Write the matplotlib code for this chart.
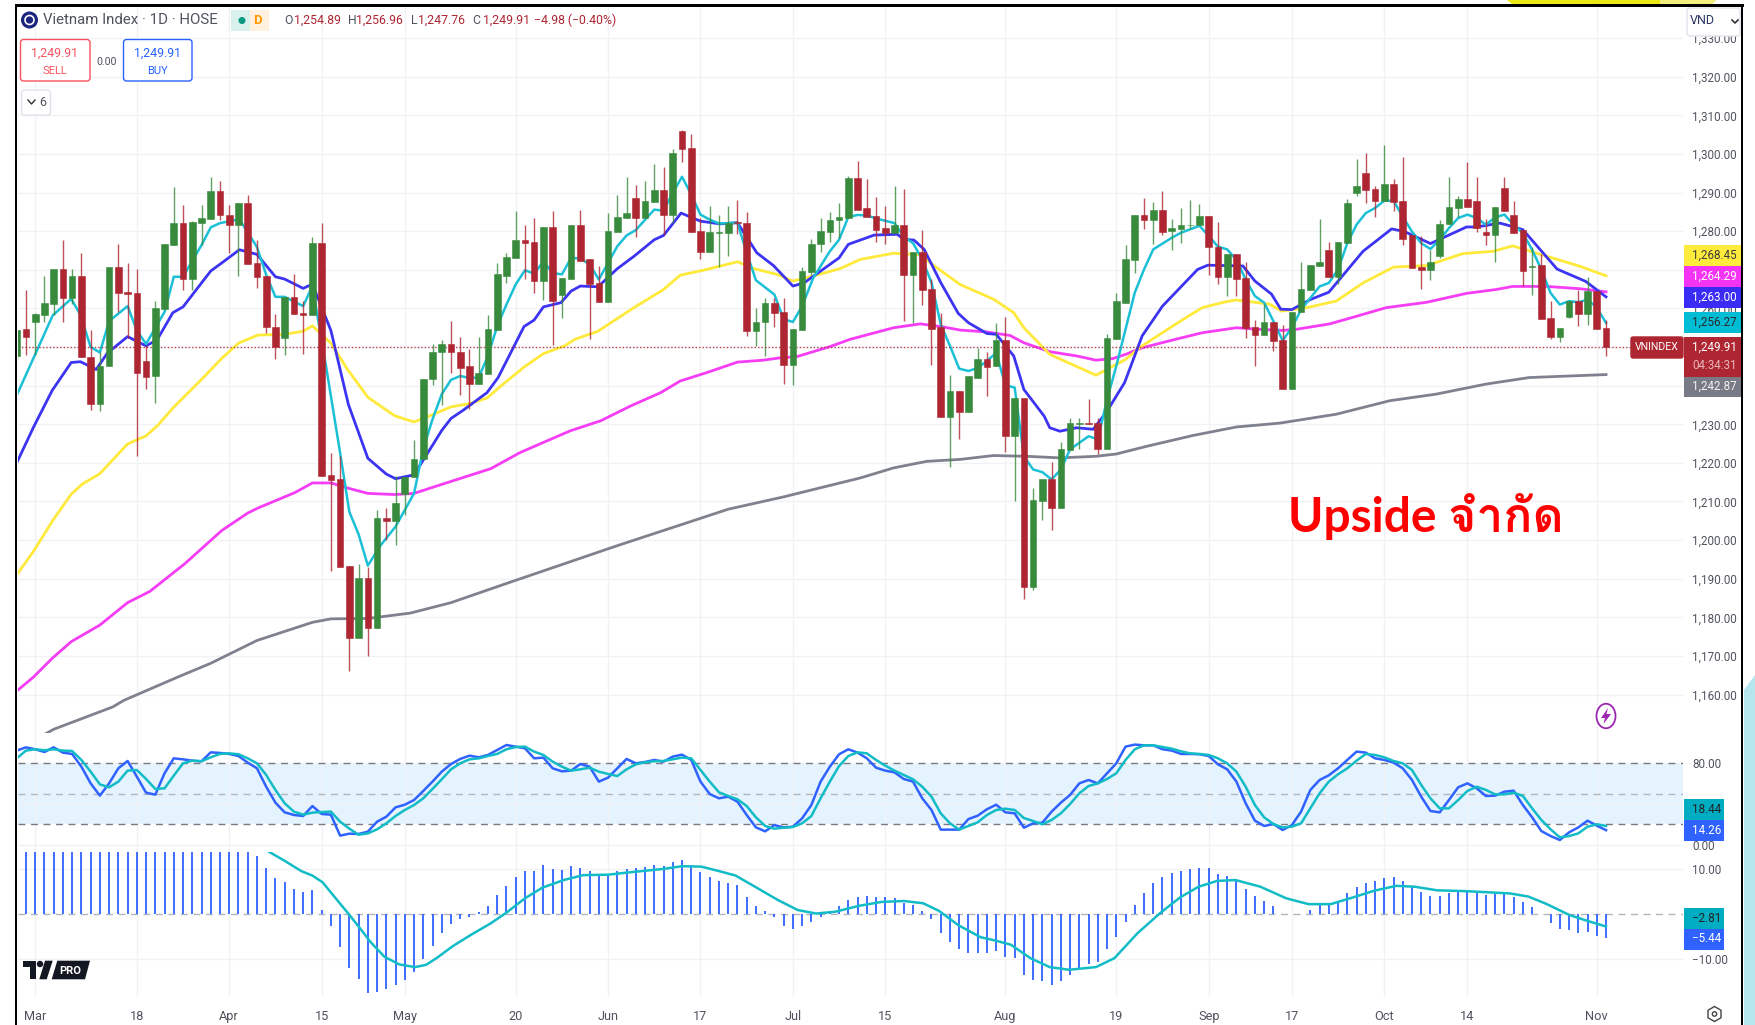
import matplotlib
matplotlib.use('Agg')
import matplotlib.pyplot as plt
from matplotlib import font_manager as fm
from matplotlib.ft2font import FT2Font
from matplotlib.patches import Rectangle, FancyBboxPatch, Circle, Ellipse, Polygon, RegularPolygon

W, H = 1755, 1025

# Candles (Vietnam Index, daily)
opens = [1247.6,1254.6,1256.6,1258.2,1261.1,1270.2,1262.8,1268.5,1247.4,1235.3,1245.0,1270.8,1264.3,1264.0,1246.5,1242.4,1259.8,1276.3,1282.1,1267.6,
         1282.1,1283.1,1290.5,1284.3,1281.5,1287.2,1271.7,1268.5,1255.2,1252.4,1263.0,1258.8,1258.3,1276.9,1216.8,1215.8,1193.2,1174.7,1190.3,1177.3,
         1205.8,1205.0,1211.9,1216.3,1220.9,1241.6,1248.6,1250.8,1248.8,1245.0,1240.3,1243.1,1254.4,1268.5,1273.1,1277.8,1277.2,1267.0,1281.1,1263.4,
         1267.7,1281.6,1272.7,1266.5,1261.6,1279.8,1283.4,1288.7,1283.4,1287.6,1290.7,1284.3,1305.9,1301.6,1280.0,1274.7,1279.5,1279.5,1282.3,1282.0,
         1254.1,1256.4,1261.4,1259.1,1245.3,1254.4,1269.5,1276.6,1279.8,1282.8,1283.3,1293.9,1285.9,1283.9,1280.9,1279.5,1281.5,1268.6,1274.7,1265.0,
         1255.1,1231.8,1238.5,1233.1,1242.0,1246.9,1245.0,1251.7,1226.9,1236.9,1187.9,1210.2,1215.9,1208.3,1223.4,1230.0,1230.4,1230.4,1223.5,1252.2,
         1261.5,1272.5,1284.3,1282.8,1285.6,1280.0,1280.6,1281.5,1281.5,1284.0,1275.9,1268.2,1274.0,1267.9,1255.3,1253.1,1256.6,1251.7,1239.2,1259.0,
         1264.7,1271.1,1275.2,1268.2,1276.9,1289.8,1295.1,1291.0,1287.8,1292.3,1287.7,1279.1,1270.7,1269.9,1273.7,1281.8,1286.1,1288.4,1287.7,1279.9,
         1279.1,1291.2,1284.2,1280.4,1270.8,1271.3,1257.5,1252.7,1257.8,1262.0,1258.5,1264.6,1254.89]
highs = [1254.5,1264.7,1258.9,1268.5,1270.2,1277.6,1270.2,1274.4,1254.3,1248.6,1270.8,1276.6,1271.8,1270.2,1250.5,1261.8,1276.6,1291.5,1286.9,1282.6,
         1286.9,1294.0,1293.1,1286.9,1287.2,1289.3,1277.8,1268.5,1258.5,1263.0,1268.9,1262.0,1278.6,1282.1,1222.6,1221.7,1193.2,1193.9,1193.1,1207.8,
         1208.4,1216.7,1216.4,1225.8,1241.7,1250.8,1251.7,1256.8,1252.7,1249.4,1252.7,1258.2,1271.8,1274.4,1285.3,1281.5,1283.3,1281.1,1285.3,1267.8,
         1281.6,1285.6,1272.7,1271.1,1284.6,1289.5,1294.0,1292.0,1292.9,1297.4,1296.6,1301.4,1306.3,1305.3,1283.3,1286.5,1284.3,1286.5,1288.2,1284.9,
         1260.2,1262.8,1262.8,1262.8,1254.7,1270.8,1278.0,1283.4,1284.9,1287.2,1294.4,1298.1,1293.4,1288.8,1286.6,1291.7,1290.9,1274.7,1280.3,1267.5,
         1258.9,1242.7,1238.5,1242.4,1249.8,1248.8,1256.1,1257.9,1236.9,1236.9,1213.5,1215.9,1220.2,1225.4,1231.7,1231.7,1236.6,1231.7,1253.3,1264.1,
         1276.4,1284.3,1288.5,1287.6,1290.4,1283.1,1286.0,1288.2,1287.0,1284.0,1282.4,1274.0,1274.0,1272.1,1256.9,1261.1,1256.6,1255.6,1259.2,1272.1,
         1271.3,1283.2,1277.1,1277.1,1288.3,1298.7,1300.3,1291.8,1302.3,1293.5,1299.3,1279.1,1278.7,1275.2,1282.8,1294.1,1289.2,1297.8,1294.1,1283.1,
         1286.4,1294.1,1287.9,1280.4,1276.0,1274.2,1261.8,1255.0,1262.0,1264.9,1268.2,1264.6,1256.96]
lows = [1247.0,1247.9,1247.9,1256.6,1258.2,1256.5,1261.1,1247.3,1233.7,1233.4,1245.0,1259.1,1252.4,1221.9,1239.2,1235.6,1259.8,1276.3,1264.7,1264.7,
        1276.4,1283.1,1282.9,1274.4,1268.5,1271.5,1265.3,1253.6,1246.8,1247.9,1258.6,1248.3,1258.3,1216.6,1192.1,1193.0,1166.2,1174.7,1169.9,1177.3,
        1200.1,1198.8,1206.5,1216.3,1220.9,1240.1,1235.1,1243.3,1237.6,1233.9,1240.3,1243.1,1254.4,1266.6,1273.1,1267.5,1264.1,1262.3,1250.6,1257.6,
        1267.7,1272.4,1252.2,1261.6,1261.6,1279.8,1283.4,1278.5,1283.4,1287.6,1279.1,1282.2,1297.9,1279.8,1272.7,1274.7,1270.8,1273.7,1279.4,1252.8,
        1250.4,1247.8,1255.3,1240.5,1240.1,1254.4,1268.6,1274.6,1277.2,1278.3,1283.3,1285.6,1283.7,1277.2,1276.6,1279.5,1256.7,1256.3,1260.9,1245.3,
        1231.8,1218.9,1226.3,1233.1,1242.0,1237.3,1245.0,1222.8,1210.1,1184.7,1187.0,1205.3,1202.7,1208.3,1223.4,1223.5,1230.1,1222.4,1223.5,1252.2,
        1261.5,1269.3,1280.5,1276.8,1279.0,1275.1,1277.0,1280.7,1281.5,1268.6,1266.3,1263.2,1263.1,1252.4,1245.0,1253.1,1249.0,1239.2,1239.2,1259.0,
        1264.7,1271.1,1268.2,1266.2,1276.9,1289.0,1287.3,1283.8,1287.8,1285.3,1276.5,1270.5,1265.1,1267.3,1273.1,1281.8,1283.6,1286.2,1279.9,1276.5,
        1272.0,1285.3,1279.5,1265.7,1263.4,1257.3,1252.2,1251.3,1257.5,1255.4,1255.7,1254.7,1247.76]
closes = [1254.5,1252.7,1258.6,1261.4,1270.2,1262.8,1268.5,1247.3,1235.3,1245.2,1270.8,1264.1,1263.7,1243.4,1242.3,1260.1,1276.6,1282.1,1267.6,1282.4,
          1283.3,1290.5,1284.1,1281.5,1287.2,1271.5,1268.2,1255.1,1250.1,1263.0,1258.6,1258.3,1276.9,1216.6,1215.6,1193.0,1174.7,1190.3,1177.3,1205.8,
          1205.0,1209.7,1216.4,1221.0,1241.7,1248.8,1250.7,1248.6,1244.7,1240.3,1243.4,1254.7,1268.8,1273.4,1277.8,1276.9,1267.0,1281.1,1261.8,1267.8,
          1281.6,1272.4,1266.3,1261.6,1280.1,1283.6,1284.6,1283.4,1287.8,1290.7,1284.3,1300.3,1301.4,1279.8,1274.7,1279.7,1279.7,1282.2,1282.0,1254.1,
          1256.6,1261.4,1258.9,1245.3,1254.7,1269.7,1276.8,1280.0,1282.9,1283.6,1293.9,1285.6,1283.8,1280.4,1279.5,1281.5,1268.6,1274.7,1264.7,1254.7,
          1231.8,1238.5,1233.1,1242.4,1246.9,1244.9,1251.7,1226.9,1236.9,1187.9,1210.4,1215.9,1208.3,1223.6,1230.4,1230.4,1230.1,1223.5,1252.4,1261.8,
          1272.7,1284.3,1282.8,1285.6,1279.9,1280.8,1281.7,1281.7,1284.0,1275.8,1268.2,1274.0,1267.7,1254.9,1253.1,1256.6,1251.5,1239.2,1259.2,1265.0,
          1271.3,1271.9,1268.2,1277.1,1287.4,1291.6,1290.7,1287.9,1292.3,1287.5,1277.9,1270.5,1269.9,1271.9,1281.9,1286.4,1288.4,1286.2,1280.8,1279.1,
          1286.4,1285.3,1279.5,1269.8,1271.0,1257.3,1252.7,1255.0,1262.0,1258.5,1264.6,1254.7,1249.91]

# Moving averages: bar position, value
gray_x = [2.5,4,10.4,11.6,17.6,21,26,32,34,38,42.6,47,52.8,64.8,77,83,91.3,94.9,98.5,102.1,105.7,109.3,112.9,116.8,119,122.3,127.3,132,136.7,142.8,148.6,153.6,159,163.7,172]
gray_y = [1149,1151,1156.8,1158.5,1164.7,1168.1,1174,1178.7,1179.6,1179.7,1181.1,1183.8,1188.6,1198.4,1208,1211.2,1216.1,1218.7,1220.4,1220.9,1221.9,1221.7,1221.3,1221.7,1222.3,1224.3,1227.1,1229.3,1230.3,1232.6,1236.1,1237.8,1240.4,1242.1,1242.87]
magenta_x = [0,1.85,3.85,5.9,9,12,14.4,18.2,22.2,25,26.1,30.1,32,34,35.8,38,40.9,43,44.8,47,51.3,54.5,57,59.9,63.2,66.4,69.7,71.8,74.7,78,80.8,82.6,84.4,88,90.2,94.9,97.8,100.3,102.1,105,107.5,109,111.8,114.7,116.8,118.6,120,121.8,125.4,128.3,132,134.4,136.9,138.5,142.1,144.6,148.2,152.6,156.9,160.1,161.9,165.6,169.2,172]
magenta_y = [1160.9,1164.6,1169.4,1173.7,1178,1183.8,1186.7,1193.9,1202.5,1207,1208.3,1212.3,1214.8,1214.8,1213.5,1212.1,1211.8,1212.1,1213.5,1215.2,1218.5,1222.7,1225.3,1228.3,1230.9,1234.7,1238.2,1241.2,1243.4,1246.1,1246.6,1247.2,1247.5,1250.1,1252,1255,1256,1255.2,1254.4,1253.9,1253,1251.1,1248.8,1247.7,1246.6,1247,1248.1,1249.8,1252,1253.7,1255,1254.6,1254.3,1254.6,1256,1257.7,1260.2,1261.6,1263.9,1264.9,1265.7,1265.7,1265.1,1264.29]
yellow_x = [0,1.85,3.85,5.9,7.1,9,12,14,15.3,16.9,20,22.2,24,26.1,29,31,32,34,35.8,38,40.9,43,44.8,47,49.1,50.9,52.4,54.9,57,59.3,60.4,62.9,66.8,70,71.8,74.7,78,79.8,82.3,84,86.2,89.1,91.3,94.9,97.8,99.2,102.1,105.7,107.9,109,111.8,116.8,120,121.8,125.4,128.3,130.8,132,135.6,136.9,139.6,142.8,145.7,149,152.6,156.5,159.8,161.9,165.6,169.2,172]
yellow_y = [1191,1197.2,1204.9,1211.9,1214.5,1217.2,1224.9,1227,1229.8,1234.2,1241.6,1247.1,1251,1253.1,1253.3,1254.1,1255.5,1251,1244.2,1237,1232.2,1230.6,1232.3,1234.5,1235.4,1236.8,1239.9,1244.8,1248.3,1250.3,1252,1254.1,1260.2,1264.9,1268.6,1270.1,1272.1,1270.3,1268.8,1267.1,1268.4,1270.3,1272.7,1274.3,1273.9,1271.2,1266.2,1262.4,1258.9,1255,1248.1,1242.7,1246.8,1250.3,1255.9,1260.2,1261.7,1262.2,1261.1,1259.3,1260.2,1261.9,1266.6,1270.7,1271.1,1274.2,1274.8,1276.2,1273.5,1270.9,1268.45]
blue_x = [0,1.85,3.85,5.9,6.9,8.6,9.8,12,14,15.2,16.9,18,21,22.2,24.1,26,28,29,31,32,34,35.9,38,40,41,43,46,47,48.3,50.9,52.1,54.9,56,57,58.9,60,61,62.9,65,66.8,69,70,71.9,74,76.1,78,80.1,81.9,84,85.2,89,90,92.8,95.3,96,97.1,98.2,100,101.9,103,105,106,107.9,109,111.2,111.8,112.9,114.7,116.5,118,119.9,121.8,124,127.8,128.9,132.7,134,135.8,136.8,138,140,142,145.7,148.8,150.2,153,156.9,158,160.5,161.9,163,166.7,169.8,172]
blue_y = [1220,1229.4,1238.8,1246,1246.2,1244.2,1248.4,1252.7,1250.3,1251.9,1258.9,1260.4,1269.7,1271.8,1275.2,1274,1268.2,1267.6,1265.2,1266.3,1254.3,1235.1,1221.2,1217.1,1215.9,1216.9,1228.4,1231.5,1233.6,1238.2,1242.1,1255.3,1257,1260.4,1261.5,1264.5,1265.8,1265.6,1270.3,1273.5,1277.8,1278.9,1284.7,1282.6,1281.9,1282.2,1274.4,1271.1,1265.8,1266.6,1273.1,1276.6,1279,1279.2,1277.9,1277.7,1275.3,1266.7,1258.7,1256.3,1253.5,1253.3,1247.7,1239,1232.1,1229.1,1228.2,1229.1,1228.7,1233.4,1240.8,1252.9,1260.6,1270.1,1271.2,1271,1267.1,1263.7,1259.8,1259.7,1262.3,1264.2,1274.8,1280.6,1279.9,1276.8,1281.1,1281.1,1282.1,1281.2,1280.4,1270.2,1267,1263.0]
cyan_x = [0,3.9,5.9,6.9,8,9,10,12,13,14,16,17,18,20,21,22,24.1,26,27,28,29,31,32,33.5,35,36,37,38,39.4,41,43,44,45,46,47,48,49,50,51,52,53,54,55,56,57,58,59,60,61,62,63,64,65,66,67,69,70,71,72,73,74,75,76,78,79,80,82,83,84,85,86.2,88,89,90,91,92,93,95,96,97,98,99,100,101,102,103,104,105,106,107,108,109,110,111,112,113,114,116,117,118,119,120,121,122,123,125,126,128,129,130,131,132,133,134,135,136,137,138,139,140,141,142,143,144,145,146,147,148,149,150,151,152,153,154,155,156,157,158,159,160,161,162,163,164,165,166,167,168,169,170,171,172]
cyan_y = [1237.5,1258.2,1262.5,1258.3,1250,1248.6,1256.7,1260.6,1254.3,1250.8,1259.1,1268.2,1268.2,1276.4,1281,1282.1,1283.1,1275.9,1268.7,1263,1263,1260.6,1265.8,1244.7,1222.6,1207.3,1201.5,1193.4,1198.7,1203.5,1212.1,1223.6,1231.3,1237.8,1241.5,1242.5,1242,1242.1,1247.7,1255.4,1261,1266.2,1269.9,1269,1272.2,1269.2,1268.8,1273.1,1272.9,1271.4,1267.5,1271.8,1276.1,1278.9,1280.3,1285.6,1285.3,1289.9,1294.1,1289.5,1284.3,1283,1282,1282.2,1274.4,1267.3,1263.6,1257.2,1256.5,1260.6,1267.9,1274.8,1277.8,1283.7,1284.2,1284.1,1283.3,1282.1,1278.6,1276.9,1272.7,1266.7,1255.9,1250.3,1244.4,1243.8,1244.6,1246.4,1248.5,1240.1,1239.5,1221.7,1218.3,1217.6,1215.7,1218.3,1223.5,1226.9,1226.1,1236.4,1245.1,1254.6,1264.1,1270.1,1275.3,1278.3,1279.6,1281.4,1278.8,1276,1275.3,1272.6,1267.5,1263.2,1261.5,1256.7,1251.7,1255,1259.7,1262.7,1265.7,1266.6,1270.1,1276.9,1281.7,1284.7,1286,1287.9,1287.9,1283.8,1279.9,1276.9,1275.4,1277.8,1280.8,1283.4,1284.3,1283.4,1281.7,1283.6,1284.3,1281.7,1279.5,1275.2,1270.1,1264,1261,1261.9,1261.6,1262.3,1260.2,1256.27]

# Stochastic panel, one value per bar
stoch_k = [92.5,95.7,93.8,91.1,95.7,90.5,89.2,76.7,60.3,48.2,60.3,75.1,82.3,66.9,51.1,49.2,70.2,84.9,83.9,82.6,82,90.8,90.2,89.2,87.2,80.7,75.1,57,41.3,31.8,
           29.2,28.2,38,30.2,29.5,8.9,10.8,10.5,12.8,22.6,27.5,36.7,39.3,43.9,52.8,62,71.8,79.3,84.3,87.5,85.9,88.2,93.1,98,96.4,94.8,84.9,85.6,75.1,72.1,
           72.8,79.3,76.7,62,65.9,75.1,84.3,80,81.3,83.3,81.6,86.6,88.5,83.3,62,49.8,45.6,47.2,42.3,29.2,17,13.1,19.3,17,17.7,25.9,39,62,76.7,88.9,
           93.8,90.5,84.9,75.7,72.8,71.1,64.6,62,45.6,34.1,14.8,14.8,14.8,25.2,28.5,34.8,39.3,31.8,30.8,16.7,21,21.6,32.5,41.3,48.9,60.3,63.6,60.3,70.2,80,
           96.4,98.4,97.7,97.7,93.8,92.5,89.2,89.2,88.9,87.2,79,74.1,62,40.7,23.6,18.4,20.3,14.4,19.3,32.5,53.8,63.6,68.2,75.1,83.3,91.5,90.5,84.9,83.3,80.7,
           75.1,63.6,47.2,33.1,31.8,43.9,56.4,60.3,55.4,47.9,48.2,52.1,53.1,39,26.9,13.4,8.5,4.6,12.1,17,23.6,18.7,14.26]
stoch_d = [84.9,92.5,93.8,92.8,93.8,92.5,92.1,83.3,71.8,59.3,56.4,62,72.8,73.4,64.6,54.8,55.4,67.9,80,82.6,82,85.9,89.2,89.8,88.9,84.9,80,68.5,53.8,40.7,
           32.5,29.5,31.5,32.1,32.5,22.6,15.7,9.8,11.1,15.1,21,28.2,34.1,39,45.6,54.8,64.3,74.1,80,83.9,84.9,87.2,89.2,93.8,96,96.4,91.5,88.2,81.6,76.7,
           72.8,74.1,75.7,71.8,69.5,67.5,74.1,79,81,82,82.3,83.9,85.6,84.9,73.4,62,51.5,47.9,44.6,38,26.9,18.4,15.7,16.7,17.4,21,28.2,45.6,62,77.4,
           87.2,90.8,89.8,83.3,77.7,72.8,68.5,64.3,57,47.2,30.8,21,14.8,18.4,22,29.2,34.1,35.4,34.1,26.2,23.3,20,24.3,30.8,40,50.5,57.7,60.3,64.6,70.2,
           83.3,93.8,97.7,97.7,96,94.4,91.8,89.8,89.2,88.2,84.9,80,71.8,57,39,26.9,20.3,17,17.7,21,35.7,50.5,62,69.2,75.1,82.6,89.2,88.2,85.9,82.3,
           80,73.4,58.7,45.6,35.7,35.7,43.9,52.8,57,53.8,49.5,49.5,51.1,47.9,35.7,24.3,15.1,7.2,8.5,11.1,17.7,20,18.44]

# MACD panel. The first bars run past the top of the panel, their height is a guess
macd_hist = [0,15,15,15,15,15,15,15,15,15,15,15,15,15,15,15,15,15,15,15,15,15,15,15,15,15,13,10.4,8,7.1,
             5.7,4.9,5.4,0.9,-2.8,-7.3,-12.1,-14.6,-17.6,-17.4,-16.8,-16,-14.9,-13.1,-10.1,-7.1,-4.3,-2.3,-1.2,-0.6,0.4,1.8,4.3,6.3,8.2,9.6,9.6,11,10.1,9.9,
             10.7,10.4,9.6,8.7,8.7,9.6,10.1,10.2,10.5,11,10.7,11.6,12.1,11,9.3,8.2,7.4,6.9,6.5,3.7,1.8,0.7,-0.6,-2.6,-3.4,-2.8,-1.8,-0.6,0.7,1.8,
             3.1,3.8,4,3.7,3.7,3.5,2.5,2.1,0.7,-1.2,-4.3,-6.2,-7.9,-8.7,-8.7,-8.7,-8.2,-9.6,-9.9,-13.7,-14.9,-15.1,-16,-15.1,-13.7,-12.4,-11.2,-10.7,-7.9,-5.1,
             -1.8,2,4.6,6.9,8.2,9.1,9.6,10.1,10.4,10.2,9,8.5,7.5,5.7,4.1,2.9,1.8,0.1,0.1,0.1,0.9,1.9,2,2.9,4.6,6,6.9,7.4,8,8.3,
             7.4,6.1,4.9,4.1,4.1,4.6,5.1,5.1,4.7,4.3,4.5,4.5,3.9,2.6,1.5,0.1,-2.1,-3.4,-3.7,-4.2,-4,-4.9,-5.44]
macd_x = [27,29,30.8,32,33.1,34.8,36,37.3,38.3,39.8,41.4,43.1,44.3,45.5,47.2,49.3,51.3,53,55,56.9,59.2,61.3,64,66.2,70,72,74.1,76.2,77.8,79.9,82.4,84.5,86.5,88.6,91.1,93.6,96,98.1,99.8,101.9,104.3,106,107.6,109.7,111.8,113.9,116.8,118.8,121.3,123.8,125.9,127.9,129.9,131.9,134.6,137.4,139.8,142.2,144.6,146.9,149.3,151.3,153.7,156.9,161.6,163.6,165.6,168,169.6,172]
macd_y = [14.3,11.9,9.6,8.6,7.1,2.8,-0.2,-3.6,-6.3,-9.6,-11.3,-11.9,-11.4,-9.8,-7.2,-4.5,-2.1,0.3,3.5,5.9,7.6,8.7,8.8,9.3,10.1,10.7,10.6,9.5,8.6,6.1,3.1,0.9,0.1,0.5,1.8,2.7,2.9,2.4,0.7,-2.5,-5.2,-6,-6.9,-9.9,-11.9,-12.5,-11.9,-9.9,-4.3,0.3,3.7,6.1,7.4,7.6,6.1,3.5,2.2,2.2,3.7,5.2,6.3,6.1,5.3,5.1,4.6,3.9,2.2,-0.2,-1.3,-2.81]

# Time axis
date_pos = [2,13,23,33,42,54,64,74,84,94,107,119,129,138,148,157,171]
date_labels = ['Mar','18','Apr','15','May','20','Jun','17','Jul','15','Aug','19','Sep','17','Oct','14','Nov']
price_ticks = [1160,1170,1180,1190,1200,1210,1220,1230,1240,1250,1260,1270,1280,1290,1300,1310,1320,1330]

# Colours
GREEN = '#388a3c'
RED = '#ae2631'
GRID = '#f1f2f6'
TXT = '#50535e'
TEAL = '#12bcc6'
BLUE = '#2f62ff'


def thai_family():
    # first installed family that has Thai letters
    for f in fm.fontManager.ttflist:
        try:
            if 0x0E08 in FT2Font(f.fname).get_charmap():
                return f.name
        except Exception:
            pass
    return 'DejaVu Sans'


plt.rcParams['font.family'] = ['Roboto']
fig = plt.figure(figsize=(W / 100, H / 100), dpi=100, facecolor='white')


def panel(top, bottom):
    ax = fig.add_axes([18 / W, 1 - bottom / H, (1683 - 18) / W, (bottom - top) / H])
    for s in ax.spines.values():
        s.set_visible(False)
    ax.set_xlim(0.14, 180.33)
    ax.set_xticks(date_pos)
    ax.set_xticklabels([])
    ax.yaxis.tick_right()
    ax.tick_params(length=0, labelsize=8.4, labelcolor=TXT, pad=6.5)
    ax.grid(True, color=GRID, lw=1)
    ax.set_axisbelow(True)
    return ax


xs = list(range(len(closes)))

# Price panel
ax = panel(7, 733)
ax.set_ylim(1150.04, 1338.07)
ax.set_yticks(price_ticks)
ax.set_yticklabels([f'{p:,.2f}' for p in price_ticks])
ax.plot(gray_x, gray_y, color='#7f828e', lw=2, zorder=2)
ax.plot(magenta_x, magenta_y, color='#f53df5', lw=2, zorder=2)
ax.plot(yellow_x, yellow_y, color='#ffe93b', lw=2, zorder=2)
ax.plot(blue_x, blue_y, color='#3c34f2', lw=2, zorder=2)
ax.plot(cyan_x, cyan_y, color='#1cc0d6', lw=1.8, zorder=2)
cols = [GREEN if c >= o else RED for o, c in zip(opens, closes)]
ax.vlines(xs, lows, highs, colors=cols, lw=1, alpha=0.8, zorder=3)
ax.bar(xs, [abs(c - o) for o, c in zip(opens, closes)], bottom=[min(o, c) for o, c in zip(opens, closes)],
       width=0.72, color=cols, lw=0.4, edgecolor=cols, zorder=4)
ax.axhline(closes[-1], color=RED, lw=1, ls=(0, (1, 1.5)), alpha=0.85, zorder=3)

# Stochastic panel
ax2 = panel(733, 852)
ax2.set_ylim(-7.2, 109.8)
ax2.set_yticks([0, 40, 80])
ax2.set_yticklabels(['0.00', '40.00', '80.00'])
ax2.axhspan(20, 80, color='#e4f3fe', lw=0, zorder=0)
ax2.axhline(80, color='#787b86', lw=1, ls=(0, (5, 4)))
ax2.axhline(50, color='#b4b6bd', lw=1, ls=(0, (5, 4)))
ax2.axhline(20, color='#787b86', lw=1, ls=(0, (5, 4)))
ax2.plot(xs, stoch_k, color=BLUE, lw=1.8)
ax2.plot(xs, stoch_d, color=TEAL, lw=1.8)

# MACD panel
ax3 = panel(852, 997)
ax3.set_ylim(-18.6, 13.88)
ax3.set_yticks([-10, 10])
ax3.set_yticklabels(['\u221210.00', '10.00'])
ax3.axhline(0, color='#b4b6bd', lw=1, ls=(0, (5, 4)))
ax3.vlines(xs, 0, macd_hist, colors=BLUE, lw=1.3)
ax3.plot(macd_x, macd_y, color=TEAL, lw=1.8)
ax3.set_xticklabels(date_labels)
ax3.tick_params(axis='x', labelsize=9.2, pad=9.5)

# Everything else is placed in screen pixels on a full size layer
ov = fig.add_axes([0, 0, 1, 1], zorder=10)
ov.set_xlim(0, W)
ov.set_ylim(H, 0)
ov.axis('off')
ov.patch.set_alpha(0)


def txt(x, y, s, color=TXT, size=8.4, ha='left', **kw):
    ov.text(x, y, s, color=color, fontsize=size, ha=ha, va='center', **kw)


def box(x0, y0, x1, y1, color):
    ov.add_patch(Rectangle((x0, y0), x1 - x0, y1 - y0, fc=color, ec='none'))


def rbox(x0, y0, x1, y1, fc, ec, r=3):
    ov.add_patch(FancyBboxPatch((x0 + r, y0 + r), x1 - x0 - 2 * r, y1 - y0 - 2 * r,
                                boxstyle=f'round,pad={r}', fc=fc, ec=ec, lw=1))


# frame and the bits of other picture round it
box(15, 4, 17, H, 'black')
box(15, 4, 1744, 6.5, 'black')
box(1741, 4, 1743.5, H, 'black')
ov.add_patch(Polygon([(1507, 0), (1716, 0), (1712, 4), (1512, 4)], fc='#ebe815', ec='none'))
ov.add_patch(Polygon([(1660, 0), (1716, 0), (1712, 4), (1660, 4)], fc='#f3ee7c', ec='none'))
ov.add_patch(Polygon([(1744, 690), (W, 675), (W, H), (1744, H)], fc='#b5e6ee', ec='none'))

# header
ov.add_patch(Circle((29.5, 20), 8.5, fc='#1a237e', ec='none'))
ov.add_patch(Circle((29.5, 20), 4.5, fc='none', ec='white', lw=1.2))
txt(43, 20.5, 'Vietnam Index \u00b7 1D \u00b7 HOSE', color='#50535e', size=10.8)
box(231, 10, 250, 31, '#d8f1ec')
box(250, 10, 269, 31, '#fff1dd')
ov.add_patch(Circle((242, 20.5), 3.5, fc='#089981', ec='none'))
txt(258, 20.5, 'D', color='#ff9800', size=9.5, ha='center', fontweight='bold')
for x, s, c in [(284, 'O', TXT), (294.5, '1,254.89', RED), (348, 'H', TXT), (356.5, '1,256.96', RED),
                (411, 'L', TXT), (418, '1,247.76', RED), (472, 'C', TXT), (483, '1,249.91', RED),
                (534, '\u22124.98 (\u22120.40%)', RED)]:
    txt(x, 20.5, s, color=c, size=8.8)

# sell / buy
rbox(20.5, 39.5, 90, 81, 'white', '#f7525f')
txt(55, 53, '1,249.91', color='#f7525f', size=8.8, ha='center')
txt(55, 71, 'SELL', color='#f7525f', size=8, ha='center')
txt(106.5, 62, '0.00', size=7.6, ha='center')
rbox(123.5, 39.5, 192, 81, 'white', '#2962ff')
txt(158, 53, '1,249.91', color='#2962ff', size=8.8, ha='center')
txt(158, 71, 'BUY', color='#2962ff', size=8, ha='center')
rbox(21.5, 90, 50.5, 115, 'white', '#e0e3eb')
ov.plot([28, 31.5, 35], [100, 104, 100], color='#333', lw=1)
txt(39, 102.5, '6', color=TXT, size=9)

# VND button
rbox(1687, 8, 1740, 36, 'white', '#e0e3eb')
txt(1690, 21, 'VND', color='#2a3560', size=9)
ov.plot([1732, 1735, 1738], [20, 23, 20], color='#333', lw=1.2)

# price labels on the scale
labels = [(245, 266, '#ffeb3b', '1,268.45', '#3a3a3a'), (266, 287, '#f533f5', '1,264.29', 'white'),
          (287, 308, '#3a2cf5', '1,263.00', 'white'), (312, 333, '#00bcd4', '1,256.27', '#2a2a2a')]
for y0, y1, c, s, tc in labels:
    box(1684, y0, 1741, y1, c)
    txt(1692, (y0 + y1) / 2, s, color=tc)
box(1684, 337, 1741, 377, RED)
txt(1692, 347.5, '1,249.91', color='white')
txt(1692, 365.5, '04:34:31', color='#e8b7bb')
box(1684, 377, 1741, 397, '#787b86')
txt(1692, 386.5, '1,242.87', color='#f2f2f2')
rbox(1631, 337, 1683, 358, RED, RED, r=2)
txt(1657, 347.5, 'VNINDEX', color='white', size=7.6, ha='center')

# indicator labels
for y0, y1, c, s, tc in [(799, 820, '#00acc1', '18.44', '#222222'), (820, 841, BLUE, '14.26', 'white'),
                         (908, 928.5, '#00acc1', '\u22122.81', '#222222'), (928.5, 949.5, BLUE, '\u22125.44', 'white')]:
    box(1684, y0, 1724.5, y1, c)
    txt(1692, (y0 + y1) / 2, s, color=tc)

# annotation
ov.text(1288, 532, 'Upside \u0e08\u0e33\u0e01\u0e31\u0e14', color='#ff0000', fontsize=34.6, fontweight='bold',
        ha='left', va='baseline', family=['Lato', thai_family()])

# lightning mark
ov.add_patch(Ellipse((1606, 716), 19, 24.5, fc='white', ec='#9c27b0', lw=1.3))
ov.add_patch(Polygon([(1608, 708), (1601, 718), (1605, 718), (1603.5, 724), (1611, 714), (1606.5, 714)],
                     fc='#9c27b0', ec='none'))

# TV logo
ov.add_patch(Polygon([(23.3, 960.7), (36, 960.7), (36, 979.3), (30, 979.3), (30, 966.7), (23.3, 966.7)],
                     fc='#131722', ec='none'))
ov.add_patch(Circle((40, 964), 3.2, fc='#131722', ec='none'))
ov.add_patch(Polygon([(45, 960.7), (52.7, 960.7), (46.7, 979.3), (39.3, 979.3)], fc='#131722', ec='none'))
ov.add_patch(Polygon([(57.3, 960.7), (90, 960.7), (85, 979.3), (51.7, 979.3)], fc='#131722', ec='none'))
txt(70.5, 970.5, 'PRO', color='white', size=8, ha='center', fontweight='bold')

# settings mark
ov.add_patch(RegularPolygon((1714.5, 1014), 6, radius=7.5, fc='white', ec='#444', lw=1))
ov.add_patch(Circle((1714.5, 1014), 2.2, fc='white', ec='#444', lw=1))

fig.savefig('out.png', dpi=100)
